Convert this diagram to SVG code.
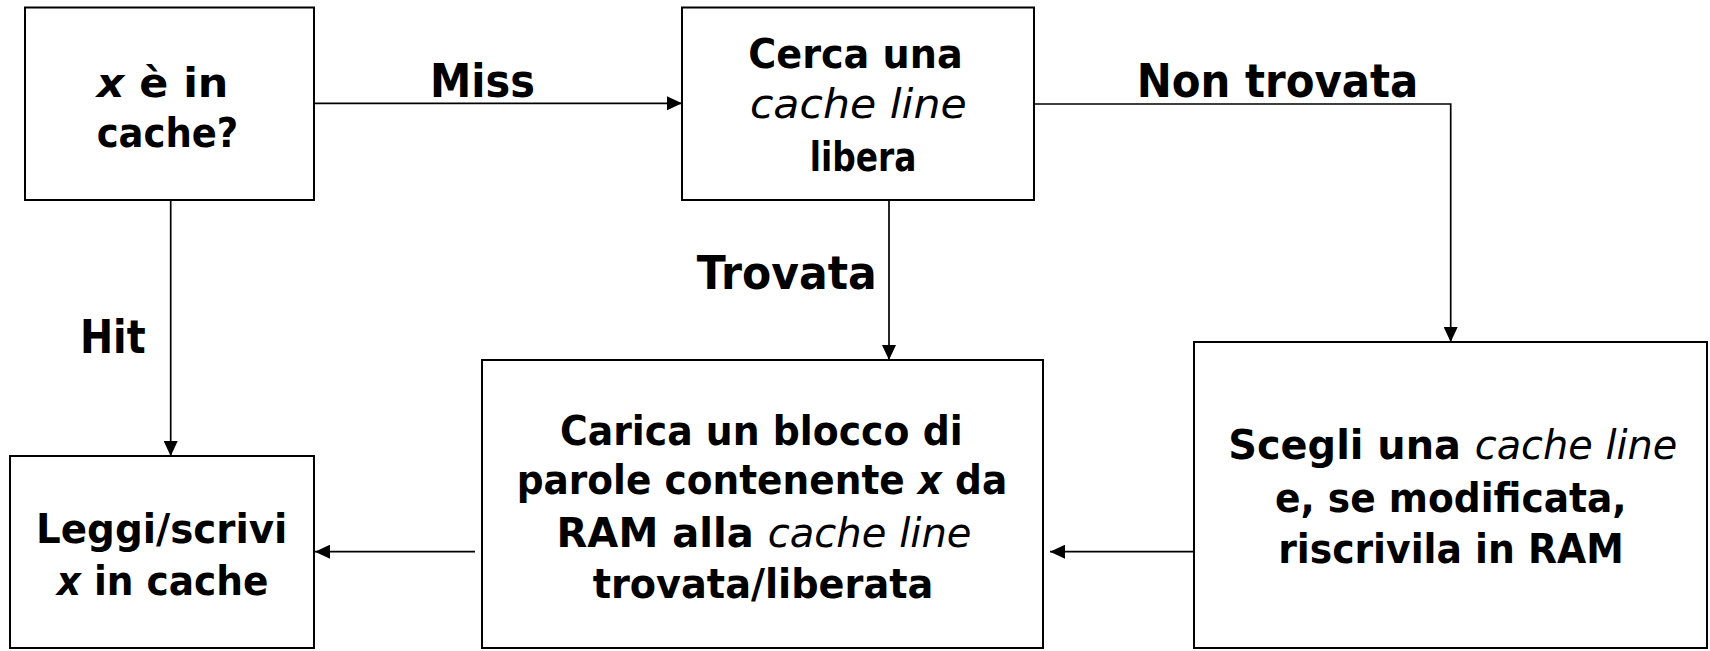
<svg xmlns="http://www.w3.org/2000/svg" width="1710" height="651" viewBox="0 0 1710 651">
<style>
.box{fill:#fff;stroke:#000;stroke-width:2}
.conn{fill:none;stroke:#000;stroke-width:1.7}
text{font-family:"DejaVu Sans","Liberation Sans",sans-serif;font-weight:bold;fill:#000;text-anchor:middle}
.nt{font-size:40px}
.lb{font-size:46px}
.bi{font-style:italic}
.it{font-style:italic;font-weight:normal}
</style>
<defs>
<marker id="arr" markerUnits="userSpaceOnUse" markerWidth="16" markerHeight="14" refX="15" refY="7" orient="auto"><path d="M0,0 L15,7 L0,14 Z" fill="#000"/></marker>
</defs>
<rect width="1710" height="651" fill="#fff"/>
<g id="connectors">
<path class="conn" d="M314,103.3 H682" marker-end="url(#arr)"/>
<path class="conn" d="M1034,104 H1450.7 V342" marker-end="url(#arr)"/>
<path class="conn" d="M889,200 V360" marker-end="url(#arr)"/>
<path class="conn" d="M170.7,200 V456" marker-end="url(#arr)"/>
<path class="conn" d="M1194,551.7 H1050" marker-end="url(#arr)"/>
<path class="conn" d="M475,551.7 H315" marker-end="url(#arr)"/>
<text class="lb" x="482.5" y="97" textLength="105" lengthAdjust="spacingAndGlyphs">Miss</text>
<text class="lb" x="1277.5" y="97.3" textLength="281.7" lengthAdjust="spacingAndGlyphs">Non trovata</text>
<text class="lb" x="786.7" y="289.3" textLength="180" lengthAdjust="spacingAndGlyphs">Trovata</text>
<text class="lb" x="112.8" y="353.3" textLength="65.7" lengthAdjust="spacingAndGlyphs">Hit</text>
</g>
<g id="node-incache">
<rect class="box" x="25" y="7.5" width="289" height="192.5"/>
<text class="nt" x="162.5" y="96.7" textLength="131.7" lengthAdjust="spacingAndGlyphs"><tspan class="bi">x</tspan> è in</text>
<text class="nt" x="167.5" y="146.7" textLength="141.7" lengthAdjust="spacingAndGlyphs">cache?</text>
</g>
<g id="node-cerca">
<rect class="box" x="682" y="7.5" width="352" height="192.5"/>
<text class="nt" x="855.5" y="68.3" textLength="214.4" lengthAdjust="spacingAndGlyphs">Cerca una</text>
<text class="nt" x="858.3" y="118.3" textLength="216.7" lengthAdjust="spacingAndGlyphs"><tspan class="it">cache line</tspan></text>
<text class="nt" x="863" y="171" textLength="106.7" lengthAdjust="spacingAndGlyphs">libera</text>
</g>
<g id="node-carica">
<rect class="box" x="482" y="360" width="561" height="288"/>
<text class="nt" x="761.3" y="445" textLength="402.7" lengthAdjust="spacingAndGlyphs">Carica un blocco di</text>
<text class="nt" x="762" y="494" textLength="490.6" lengthAdjust="spacingAndGlyphs">parole contenente <tspan class="bi">x</tspan> da</text>
<text class="nt" x="764" y="546.7" textLength="415" lengthAdjust="spacingAndGlyphs">RAM alla <tspan class="it">cache line</tspan></text>
<text class="nt" x="763" y="598.3" textLength="340.7" lengthAdjust="spacingAndGlyphs">trovata/liberata</text>
</g>
<g id="node-scegli">
<rect class="box" x="1194" y="342" width="513" height="306"/>
<text class="nt" x="1452.8" y="459.3" textLength="449" lengthAdjust="spacingAndGlyphs">Scegli una <tspan class="it">cache line</tspan></text>
<text class="nt" x="1450.8" y="511.7" textLength="351.7" lengthAdjust="spacingAndGlyphs">e, se modificata,</text>
<text class="nt" x="1451" y="563.3" textLength="345.7" lengthAdjust="spacingAndGlyphs">riscrivila in RAM</text>
</g>
<g id="node-leggi">
<rect class="box" x="10" y="456" width="304" height="192"/>
<text class="nt" x="161.7" y="543.3" textLength="251.3" lengthAdjust="spacingAndGlyphs">Leggi/scrivi</text>
<text class="nt" x="162.5" y="595" textLength="211.7" lengthAdjust="spacingAndGlyphs"><tspan class="bi">x</tspan> in cache</text>
</g>
</svg>
